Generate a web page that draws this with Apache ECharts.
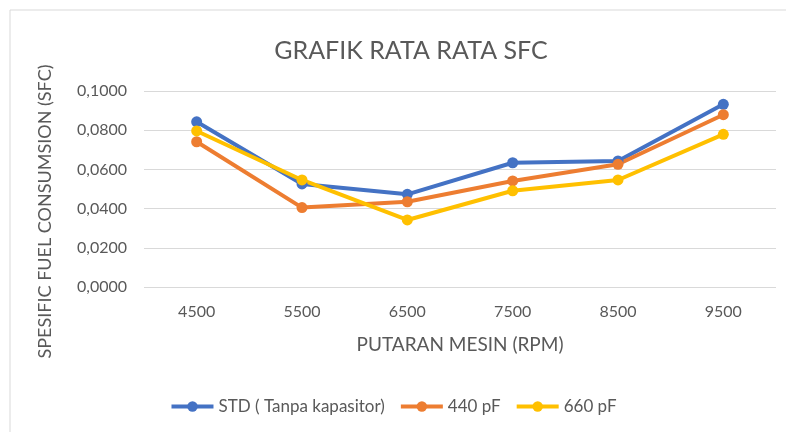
<!DOCTYPE html>
<html><head><meta charset="utf-8">
<script src="https://cdn.jsdelivr.net/npm/echarts@6/dist/echarts.min.js"></script>
<style>html,body{margin:0;padding:0;background:#fff}#c{width:786px;height:432px}</style>
</head><body><div id="c"></div>
<script>
const categories = ['4500','5500','6500','7500','8500','9500'];
const stdValues = [0.0843, 0.0526, 0.0473, 0.0634, 0.0643, 0.0932];
const pf440Values = [0.0741, 0.0405, 0.0435, 0.0541, 0.0626, 0.0879];
const pf660Values = [0.0796, 0.0546, 0.0342, 0.0491, 0.0546, 0.0779];
const seriesNames = ['STD ( Tanpa kapasitor)', '440 pF', '660 pF'];
const colors = ['#4472C4', '#ED7D31', '#FFC000'];
const font = 'Lato, "Open Sans", sans-serif';
const chart = echarts.init(document.getElementById('c'));
function mk(name, data, color){
  return {name, type:'line', data, color, symbol:'circle', symbolSize:11,
    lineStyle:{width:4, color}, itemStyle:{color}};
}
chart.setOption({
  animation:false,
  textStyle:{fontFamily:font},
  graphic:[{type:'rect', shape:{x:10,y:10,width:800,height:450}, style:{fill:'none', stroke:'#d9d9d9', lineWidth:1}}],
  title:{text:'GRAFIK RATA RATA SFC', left:406, top:33, textAlign:'center',
    textStyle:{fontFamily:font, fontSize:25, fontWeight:'normal', color:'#595959'}},
  legend:{left:392, top:393, itemWidth:42, itemHeight:13, itemGap:14, textAlign:'left',
    lineStyle:{width:4},
    textStyle:{fontFamily:font, fontSize:17, color:'#595959'},
    data:seriesNames},
  grid:{left:144, right:10, top:91, bottom:145, containLabel:false},
  xAxis:{type:'category', data:categories, boundaryGap:true,
    name:'PUTARAN MESIN (RPM)', nameLocation:'middle', nameGap:48,
    nameTextStyle:{fontFamily:font, fontSize:19, color:'#595959'},
    axisLine:{show:false}, axisTick:{show:false},
    axisLabel:{fontFamily:font, fontSize:16, color:'#595959', margin:17}},
  yAxis:{type:'value', min:0, max:0.1, interval:0.02,
    name:'SPESIFIC FUEL CONSUMSION (SFC)', nameLocation:'middle', nameGap:90, nameRotate:90,
    nameTextStyle:{fontFamily:font, fontSize:18, color:'#595959', padding:[0,0,0,-45]},
    axisLine:{show:false}, axisTick:{show:false},
    splitLine:{lineStyle:{color:'#d9d9d9', width:1}},
    axisLabel:{fontFamily:font, fontSize:16, color:'#595959', margin:17,
      formatter:v=>v.toFixed(4).replace('.',',')}},
  series:[mk(seriesNames[0], stdValues, colors[0]), mk(seriesNames[1], pf440Values, colors[1]), mk(seriesNames[2], pf660Values, colors[2])]
});
chart.setOption({legend:{left:'center'}});
</script></body></html>
